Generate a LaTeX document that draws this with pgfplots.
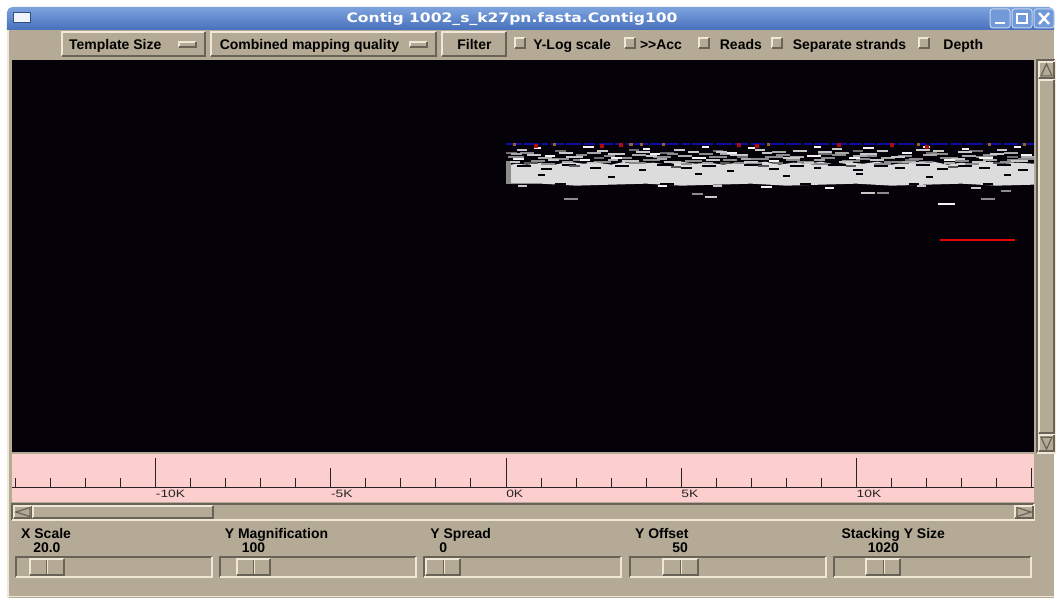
\documentclass[border=0pt]{standalone}
\usepackage{pgfplots}
\pgfplotsset{compat=1.18}
\usepackage{fontspec}
\setmainfont{Liberation Sans}
\newfontfamily\titlefont{DejaVu Sans}
\definecolor{tanbg}{RGB}{180,170,150}
\definecolor{bevlight}{RGB}{240,232,215}
\definecolor{bevdark}{RGB}{105,98,86}
\definecolor{pinkbg}{RGB}{252,206,206}
\definecolor{titletop}{RGB}{125,163,222}
\definecolor{titlebot}{RGB}{72,112,188}
\definecolor{plotbg}{RGB}{4,2,8}
\definecolor{segwhite}{RGB}{242,242,242}
\definecolor{seglight}{RGB}{200,200,200}
\definecolor{segpale}{RGB}{170,170,170}
\definecolor{segmid}{RGB}{140,140,140}
\definecolor{segdim}{RGB}{110,110,110}
\definecolor{segdark}{RGB}{88,88,88}
\definecolor{coregray}{RGB}{220,220,220}
\definecolor{bluebar}{RGB}{12,12,165}
\definecolor{redmark}{RGB}{175,12,12}
\definecolor{orangemark}{RGB}{150,100,40}
\definecolor{rulerink}{RGB}{40,36,36}
\definecolor{redline}{RGB}{235,0,0}
\newcommand{\uifont}{\bfseries\fontsize{10.5}{12}\selectfont}
\newcommand{\rl}[1]{\scalebox{1.3}[1]{#1}}
\newcommand{\raised}[4]{%
  \fill[tanbg] (#1,#2) rectangle (#3,#4);
  \draw[bevlight, line width=1.5pt] (#1,#4) -- (#1,#2) -- (#3,#2);
  \draw[bevdark, line width=1.5pt] (#1,#4) -- (#3,#4) -- (#3,#2);}
\newcommand{\sunken}[4]{%
  \fill[tanbg] (#1,#2) rectangle (#3,#4);
  \draw[bevdark, line width=1.5pt] (#1,#4) -- (#1,#2) -- (#3,#2);
  \draw[bevlight, line width=1.5pt] (#1,#4) -- (#3,#4) -- (#3,#2);}
\newcommand{\slider}[7]{% trough x1 x2, thumb x1 x2, label x, label, value
  \sunken{#1}{558}{#2}{578}
  \raised{#3}{560}{#4}{576}
  \pgfmathsetmacro{\mid}{(#3+#4)/2}
  \draw[bevdark, line width=0.75pt] (\mid,561) -- (\mid,575);
  \draw[bevlight, line width=0.75pt] (\mid+1,561) -- (\mid+1,575);
  \node[anchor=base west, inner sep=0pt, font=\uifont] at (#5,540) {#6};
  \node[anchor=base, inner sep=0pt, font=\uifont] at (\mid,554) {#7};}
\begin{document}
\begin{tikzpicture}[x=0.75pt,y=-0.75pt]
% window background
\fill[white] (0,0) rectangle (1056,599);
\fill[tanbg] (7,29) rectangle (1056,599);
\draw[bevlight, line width=1.5pt] (8,29) -- (8,599);
\draw[bevlight, line width=0.75pt] (7,598) -- (1056,598);
% title bar
\shade[top color=titletop, bottom color=titlebot] (7,30) [rounded corners=4pt]-- (7,7) -- (1056,7) [sharp corners]-- (1056,30) -- cycle;
\draw[fill=white!88!titletop, draw=titlebot!70!black, line width=0.75pt] (14,13) rectangle (31,23);
\node[anchor=base, inner sep=0pt, text=white, font=\titlefont\bfseries\fontsize{9.75}{11}\selectfont] at (513,23) {\scalebox{1.2}[1]{Contig 1002\_s\_k27pn.fasta.Contig100}};
\foreach \bx in {992,1014,1036}{
  \draw[rounded corners=2pt, fill=titletop!80!titlebot, draw=white!55!titletop, line width=0.75pt] (\bx,9) rectangle (\bx+20,28);}
\draw[white, line width=1.5pt] (997,23) -- (1007,23);
\draw[white, line width=1.2pt] (1019,14) rectangle (1029,23);
\draw[white, line width=1.8pt] (1041,13) -- (1051,24) (1041,24) -- (1051,13);
% toolbar
\raised{62}{32}{205}{56}
\raised{179}{42}{196}{47}
\node[anchor=base west, inner sep=0pt, font=\uifont] at (69,49.5) {Template Size};
\raised{211}{32}{437}{56}
\raised{411}{42}{428}{47}
\node[anchor=base west, inner sep=0pt, font=\uifont] at (220,49.5) {Combined mapping quality};
\raised{443}{32}{507}{56}
\node[anchor=base west, inner sep=0pt, font=\uifont] at (458,49.5) {Filter};
\foreach \cx in {516,626,700,773,921}{\raised{\cx}{38.5}{\cx+10}{48.5}}
\node[anchor=base west, inner sep=0pt, font=\uifont] at (534,49.5) {Y-Log scale};
\node[anchor=base west, inner sep=0pt, font=\uifont] at (641,49.5) {>{}>Acc};
\node[anchor=base west, inner sep=0pt, font=\uifont] at (721,49.5) {Reads};
\node[anchor=base west, inner sep=0pt, font=\uifont] at (794,49.5) {Separate strands};
\node[anchor=base west, inner sep=0pt, font=\uifont] at (945,49.5) {Depth};
% vertical scrollbar
\sunken{1039}{60}{1057}{454}
\raised{1041}{62}{1056}{78}
\draw[bevdark, line width=0.9pt] (1043,76) -- (1048.5,64) -- (1054,76) -- cycle;
\raised{1041}{80}{1056}{434}
\raised{1041}{436}{1056}{452}
\draw[bevdark, line width=0.9pt] (1043,438) -- (1048.5,450) -- (1054,438) -- cycle;
% ruler background
\fill[pinkbg] (12,455) rectangle (1036,503);
% horizontal scrollbar
\sunken{12}{505}{1036}{521}
\raised{14}{507}{32}{519}
\draw[bevdark, line width=0.9pt] (30,508.5) -- (16,513) -- (30,517.5) -- cycle;
\raised{33}{507}{213}{519}
\raised{1017}{507}{1035}{519}
\draw[bevdark, line width=0.9pt] (1019,508.5) -- (1033,513) -- (1019,517.5) -- cycle;
% sliders
\slider{16}{212}{30}{64}{21}{X Scale}{20.0}
\slider{220}{417}{237}{271}{225}{Y Magnification}{100}
\slider{425}{622}{427}{461}{431}{Y Spread}{0}
\slider{631}{828}{664}{699}{636}{Y Offset}{50}
\slider{836}{1033}{868}{902}{843}{Stacking Y Size}{1020}
% main template display
\begin{axis}[at={(9pt,-339.75pt)}, anchor=south west, scale only axis,
  width=768pt, height=294.75pt,
  xmin=-14.1, xmax=15.07, ymin=0, ymax=393,
  axis line style={draw=none}, ticks=none,
  axis background/.style={fill=plotbg},
  unbounded coords=jump]
% dense core of template sizes
\addplot[fill=coregray, draw=none] coordinates {
 (0,269) (0,287) (0.3,289) (0.6,288) (1.0,290) (1.4,288) (1.8,291) (2.2,289) (2.6,290)
 (3.0,288) (3.4,291) (3.8,289) (4.2,290) (4.6,288) (5.0,291) (5.4,289) (5.8,290)
 (6.2,288) (6.6,290) (7.0,289) (7.4,291) (7.8,288) (8.2,290) (8.6,289) (9.0,291)
 (9.4,288) (9.8,290) (10.2,289) (10.6,291) (11.0,288) (11.4,290) (11.8,289) (12.2,291)
 (12.6,288) (13.0,290) (13.4,289) (13.8,291) (14.2,289) (14.6,290) (15.07,289)
 (15.07,268) (14.0,267) (13.0,269) (12.0,268) (11.0,267) (10.0,269) (9.0,268)
 (8.0,267) (7.0,269) (6.0,268) (5.0,267) (4.0,269) (3.0,268) (2.0,267) (1.0,269) (0,269)};
\addplot[fill=segmid, draw=none] coordinates {(0,269) (0,292) (0.14,292) (0.14,269)};
% gaps inside the core
\addplot[plotbg, line width=1.5pt] coordinates {
 (0.3,287)(0.7,287) (nan,nan) (1.0,284)(1.3,284) (nan,nan) (1.6,288)(2.0,288) (nan,nan)
 (2.4,285)(2.7,285) (nan,nan) (3.1,287)(3.5,287) (nan,nan) (3.8,283)(4.0,283) (nan,nan)
 (4.3,288)(4.8,288) (nan,nan) (5.0,285)(5.3,285) (nan,nan) (5.6,287)(6.0,287) (nan,nan)
 (6.3,282)(6.5,282) (nan,nan) (6.8,288)(7.3,288) (nan,nan) (7.5,284)(7.8,284) (nan,nan)
 (8.1,287)(8.5,287) (nan,nan) (8.8,285)(9.0,285) (nan,nan) (9.2,288)(9.7,288) (nan,nan)
 (9.9,283)(10.2,283) (nan,nan) (10.5,287)(10.9,287) (nan,nan) (11.1,285)(11.4,285) (nan,nan)
 (11.7,288)(12.1,288) (nan,nan) (12.3,284)(12.6,284) (nan,nan) (12.9,287)(13.3,287) (nan,nan)
 (13.5,285)(13.8,285) (nan,nan) (14.0,288)(14.4,288) (nan,nan) (14.6,283)(14.9,283) (nan,nan)
 (0.9,278)(1.1,278) (nan,nan) (2.9,276)(3.1,276) (nan,nan) (5.4,279)(5.6,279) (nan,nan)
 (7.9,277)(8.1,277) (nan,nan) (10.0,279)(10.2,279) (nan,nan) (12.0,276)(12.2,276) (nan,nan)
 (14.2,278)(14.4,278) (nan,nan) (1.4,269)(1.7,269) (nan,nan) (4.4,269)(4.8,269) (nan,nan)
 (8.4,269)(8.7,269) (nan,nan) (11.5,269)(11.8,269) (nan,nan) (13.6,269)(13.9,269)};
% dark grey templates
\addplot[segdark, line width=1.5pt] coordinates {
 (0.5,290)(0.9,290) (nan,nan) (1.8,287)(2.1,287) (nan,nan) (3.4,291)(3.7,291) (nan,nan)
 (4.7,286)(5.0,286) (nan,nan) (6.1,290)(6.4,290) (nan,nan) (7.2,287)(7.5,287) (nan,nan)
 (8.4,291)(8.7,291) (nan,nan) (9.7,287)(10.0,287) (nan,nan) (11.2,290)(11.5,290) (nan,nan)
 (12.6,286)(12.9,286) (nan,nan) (13.9,290)(14.2,290)};
\addplot[segdim, line width=1.5pt] coordinates {
 (0.0,300)(0.3,300) (nan,nan) (1.4,302)(1.7,302) (nan,nan) (2.5,295)(2.8,295) (nan,nan)
 (3.5,303)(3.8,303) (nan,nan) (4.4,300)(4.8,300) (nan,nan) (5.9,302)(6.2,302) (nan,nan)
 (6.6,296)(6.9,296) (nan,nan) (7.6,290)(7.9,290) (nan,nan) (8.9,299)(9.3,299) (nan,nan)
 (9.9,302)(10.2,302) (nan,nan) (11.4,293)(11.8,293) (nan,nan) (12.0,300)(12.3,300) (nan,nan)
 (13.2,302)(13.6,302) (nan,nan) (14.3,296)(14.6,296)};
% mid grey templates
\addplot[segmid, line width=1.5pt] coordinates {
 (0.05,296)(0.5,296) (nan,nan) (0.7,292)(1.1,292) (nan,nan) (1.3,294)(1.8,294) (nan,nan)
 (2.0,298)(2.3,298) (nan,nan) (2.5,291)(3.0,291) (nan,nan) (3.2,295)(3.6,295) (nan,nan)
 (3.9,293)(4.4,293) (nan,nan) (4.6,299)(4.9,299) (nan,nan) (5.1,292)(5.6,292) (nan,nan)
 (5.8,296)(6.3,296) (nan,nan) (6.5,290)(6.8,290) (nan,nan) (7.0,294)(7.5,294) (nan,nan)
 (7.7,298)(8.1,298) (nan,nan) (8.3,291)(8.8,291) (nan,nan) (9.0,295)(9.4,295) (nan,nan)
 (9.6,292)(10.1,292) (nan,nan) (10.3,297)(10.6,297) (nan,nan) (10.8,291)(11.3,291) (nan,nan)
 (11.5,294)(11.9,294) (nan,nan) (12.1,299)(12.6,299) (nan,nan) (12.8,292)(13.2,292) (nan,nan)
 (13.4,296)(13.9,296) (nan,nan) (14.1,291)(14.5,291) (nan,nan) (14.6,294)(15.07,294) (nan,nan)
 (0.4,300)(0.8,300) (nan,nan) (1.0,289)(1.4,289) (nan,nan) (1.9,293)(2.4,293) (nan,nan)
 (2.8,297)(3.1,297) (nan,nan) (3.5,290)(4.0,290) (nan,nan) (4.2,296)(4.7,296) (nan,nan)
 (5.0,289)(5.3,289) (nan,nan) (5.5,299)(5.9,299) (nan,nan) (6.2,293)(6.6,293) (nan,nan)
 (6.9,290)(7.3,290) (nan,nan) (7.4,296)(7.9,296) (nan,nan) (8.0,293)(8.4,293) (nan,nan)
 (8.7,289)(9.2,289) (nan,nan) (9.3,298)(9.7,298) (nan,nan) (10.0,294)(10.4,294) (nan,nan)
 (10.5,289)(11.0,289) (nan,nan) (11.2,297)(11.6,297) (nan,nan) (11.8,291)(12.2,291) (nan,nan)
 (12.4,295)(12.9,295) (nan,nan) (13.1,289)(13.5,289) (nan,nan) (13.6,298)(14.0,298) (nan,nan)
 (14.3,293)(14.8,293) (nan,nan)
 (1.65,254)(2.05,254) (nan,nan) (5.30,259)(5.61,259) (nan,nan) (10.60,260)(10.94,260) (nan,nan)
 (13.56,254)(13.96,254) (nan,nan) (14.13,262)(14.42,262)};
% pale grey templates
\addplot[segpale, line width=1.5pt] coordinates {
 (0.15,299)(0.45,299) (nan,nan) (0.9,295)(1.3,295) (nan,nan) (1.6,291)(1.9,291) (nan,nan)
 (2.3,300)(2.7,300) (nan,nan) (2.9,293)(3.2,293) (nan,nan) (3.6,298)(4.0,298) (nan,nan)
 (4.3,294)(4.6,294) (nan,nan) (4.9,297)(5.3,297) (nan,nan) (5.6,290)(5.9,290) (nan,nan)
 (6.1,299)(6.5,299) (nan,nan) (6.7,294)(7.0,294) (nan,nan) (7.6,301)(8.0,301) (nan,nan)
 (8.1,296)(8.5,296) (nan,nan) (8.8,293)(9.1,293) (nan,nan) (9.4,300)(9.8,300) (nan,nan)
 (9.9,297)(10.3,297) (nan,nan) (10.7,295)(11.1,295) (nan,nan) (11.3,291)(11.7,291) (nan,nan)
 (11.9,298)(12.3,298) (nan,nan) (12.5,290)(12.8,290) (nan,nan) (13.0,297)(13.4,297) (nan,nan)
 (13.6,293)(14.0,293) (nan,nan) (14.2,300)(14.6,300) (nan,nan) (14.7,296)(15.07,296)};
% light grey templates
\addplot[seglight, line width=1.5pt] coordinates {
 (0.1,291)(0.4,291) (nan,nan) (0.6,298)(1.0,298) (nan,nan) (1.2,293)(1.5,293) (nan,nan)
 (1.7,296)(2.2,296) (nan,nan) (2.3,290)(2.6,290) (nan,nan) (2.9,299)(3.4,299) (nan,nan)
 (3.3,292)(3.8,292) (nan,nan) (4.0,297)(4.3,297) (nan,nan) (4.5,291)(5.0,291) (nan,nan)
 (5.2,301)(5.5,301) (nan,nan) (5.7,293)(6.1,293) (nan,nan) (6.4,298)(6.9,298) (nan,nan)
 (6.8,291)(7.2,291) (nan,nan) (7.3,300)(7.6,300) (nan,nan) (7.9,295)(8.4,295) (nan,nan)
 (8.5,290)(8.8,290) (nan,nan) (8.9,301)(9.3,301) (nan,nan) (9.5,291)(9.9,291) (nan,nan)
 (10.1,299)(10.6,299) (nan,nan) (10.4,293)(10.8,293) (nan,nan) (11.0,296)(11.4,296) (nan,nan)
 (11.6,290)(12.0,290) (nan,nan) (12.2,302)(12.5,302) (nan,nan) (12.7,294)(13.1,294) (nan,nan)
 (13.3,291)(13.7,291) (nan,nan) (13.8,299)(14.2,299) (nan,nan) (14.4,292)(14.9,292) (nan,nan)
 (0.3,303)(0.6,303) (nan,nan) (1.5,300)(1.9,300) (nan,nan) (2.6,302)(2.9,302) (nan,nan)
 (3.7,301)(4.1,301) (nan,nan) (4.8,303)(5.1,303) (nan,nan) (6.0,301)(6.3,301) (nan,nan)
 (7.1,303)(7.4,303) (nan,nan) (8.2,302)(8.6,302) (nan,nan) (9.3,304)(9.6,304) (nan,nan)
 (10.6,302)(10.9,302) (nan,nan) (11.7,303)(12.1,303) (nan,nan) (12.9,301)(13.3,301) (nan,nan)
 (14.0,303)(14.3,303) (nan,nan)
 (0.34,267)(0.60,267) (nan,nan) (5.67,256)(6.01,256) (nan,nan) (5.90,267)(6.15,267) (nan,nan)
 (10.14,260)(10.54,260) (nan,nan) (11.74,267)(11.99,267) (nan,nan) (13.28,265)(13.56,265)};
% white templates
\addplot[segwhite, line width=1.5pt] coordinates {
 (0.2,294)(0.5,294) (nan,nan) (1.1,297)(1.4,297) (nan,nan) (2.1,293)(2.4,293) (nan,nan)
 (3.0,295)(3.3,295) (nan,nan) (4.1,299)(4.4,299) (nan,nan) (5.3,295)(5.7,295) (nan,nan)
 (6.3,300)(6.6,300) (nan,nan) (7.5,292)(7.8,292) (nan,nan) (8.6,297)(9.0,297) (nan,nan)
 (9.8,295)(10.1,295) (nan,nan) (11.3,300)(11.6,300) (nan,nan) (12.5,293)(12.8,293) (nan,nan)
 (13.5,295)(13.9,295) (nan,nan) (14.7,298)(15.0,298) (nan,nan)
 (0.8,305)(1.0,305) (nan,nan) (2.2,306)(2.5,306) (nan,nan) (3.9,304)(4.1,304) (nan,nan)
 (5.6,306)(5.8,306) (nan,nan) (6.9,305)(7.1,305) (nan,nan) (8.8,306)(9.0,306) (nan,nan)
 (10.2,305)(10.5,305) (nan,nan) (11.9,306)(12.1,306) (nan,nan) (13.0,304)(13.2,304) (nan,nan)
 (14.5,306)(14.7,306) (nan,nan)
 (4.33,267)(4.59,267) (nan,nan) (7.29,266)(7.58,266) (nan,nan) (9.09,265)(9.37,265) (nan,nan)
 (12.34,249)(12.82,249)};
% blue line of top template sizes
\addplot[bluebar, line width=1.8pt] coordinates {
 (0.0,308.5)(0.45,308.5) (nan,nan) (0.52,308.5)(0.95,308.5) (nan,nan) (1.02,308.5)(1.2,308.5) (nan,nan)
 (1.28,308.5)(1.65,308.5) (nan,nan) (1.72,308.5)(2.15,308.5) (nan,nan) (2.22,308.5)(2.55,308.5) (nan,nan)
 (2.65,308.5)(3.05,308.5) (nan,nan) (3.12,308.5)(3.35,308.5) (nan,nan) (3.42,308.5)(4.05,308.5) (nan,nan)
 (4.12,308.5)(4.45,308.5) (nan,nan) (4.52,308.5)(4.95,308.5) (nan,nan) (5.02,308.5)(5.25,308.5) (nan,nan)
 (5.32,308.5)(5.92,308.5) (nan,nan) (6.0,308.5)(6.45,308.5) (nan,nan) (6.52,308.5)(6.92,308.5) (nan,nan)
 (7.0,308.5)(7.38,308.5) (nan,nan) (7.45,308.5)(7.92,308.5) (nan,nan) (8.0,308.5)(8.42,308.5) (nan,nan)
 (8.5,308.5)(8.72,308.5) (nan,nan) (8.8,308.5)(9.22,308.5) (nan,nan) (9.3,308.5)(9.72,308.5) (nan,nan)
 (9.8,308.5)(10.15,308.5) (nan,nan) (10.22,308.5)(10.52,308.5) (nan,nan) (10.6,308.5)(11.12,308.5) (nan,nan)
 (11.2,308.5)(11.65,308.5) (nan,nan) (11.72,308.5)(12.02,308.5) (nan,nan) (12.1,308.5)(12.62,308.5) (nan,nan)
 (12.7,308.5)(13.02,308.5) (nan,nan) (13.1,308.5)(13.62,308.5) (nan,nan) (13.7,308.5)(14.12,308.5) (nan,nan)
 (14.2,308.5)(14.62,308.5) (nan,nan) (14.7,308.5)(15.07,308.5)};
\addplot[only marks, mark=square*, mark size=1.1pt, color=redmark] coordinates {
 (0.85,307) (2.74,307) (3.27,308) (6.64,308) (7.15,307) (9.49,308) (11.0,308) (12.0,306)};
\addplot[only marks, mark=square*, mark size=0.8pt, color=orangemark] coordinates {
 (0.23,308.5) (1.37,308.5) (3.56,308.5) (3.85,308.5) (4.5,308.5) (7.49,308.5) (11.77,308.5) (13.8,308.5) (14.8,308.5)};
% isolated red template
\addplot[redline, line width=1.5pt] coordinates {(12.39,213) (14.53,213)};
\end{axis}
% ruler
\begin{axis}[at={(9pt,-366pt)}, anchor=south west, scale only axis,
  width=768pt, height=22.5pt,
  xmin=-14.1, xmax=15.07, ymin=0, ymax=1,
  axis x line*=bottom, axis y line=none,
  xtick={-10,0,10}, xticklabels={\rl{-10K},\rl{0K},\rl{10K}},
  minor xtick={-14,...,15},
  extra x ticks={-5,5,15}, extra x tick labels={\rl{-5K},\rl{5K},{}},
  extra x tick style={major tick length=14.25pt},
  major tick length=21.75pt, minor tick length=6.75pt,
  xtick align=inside,
  tick style={draw=rulerink, line width=0.75pt},
  axis line style={draw=rulerink, line width=0.75pt},
  xticklabel style={anchor=north west, inner sep=0pt, yshift=-2.25pt, text=rulerink,
    font=\fontsize{8}{9}\selectfont}]
\end{axis}
\end{tikzpicture}
\end{document}
